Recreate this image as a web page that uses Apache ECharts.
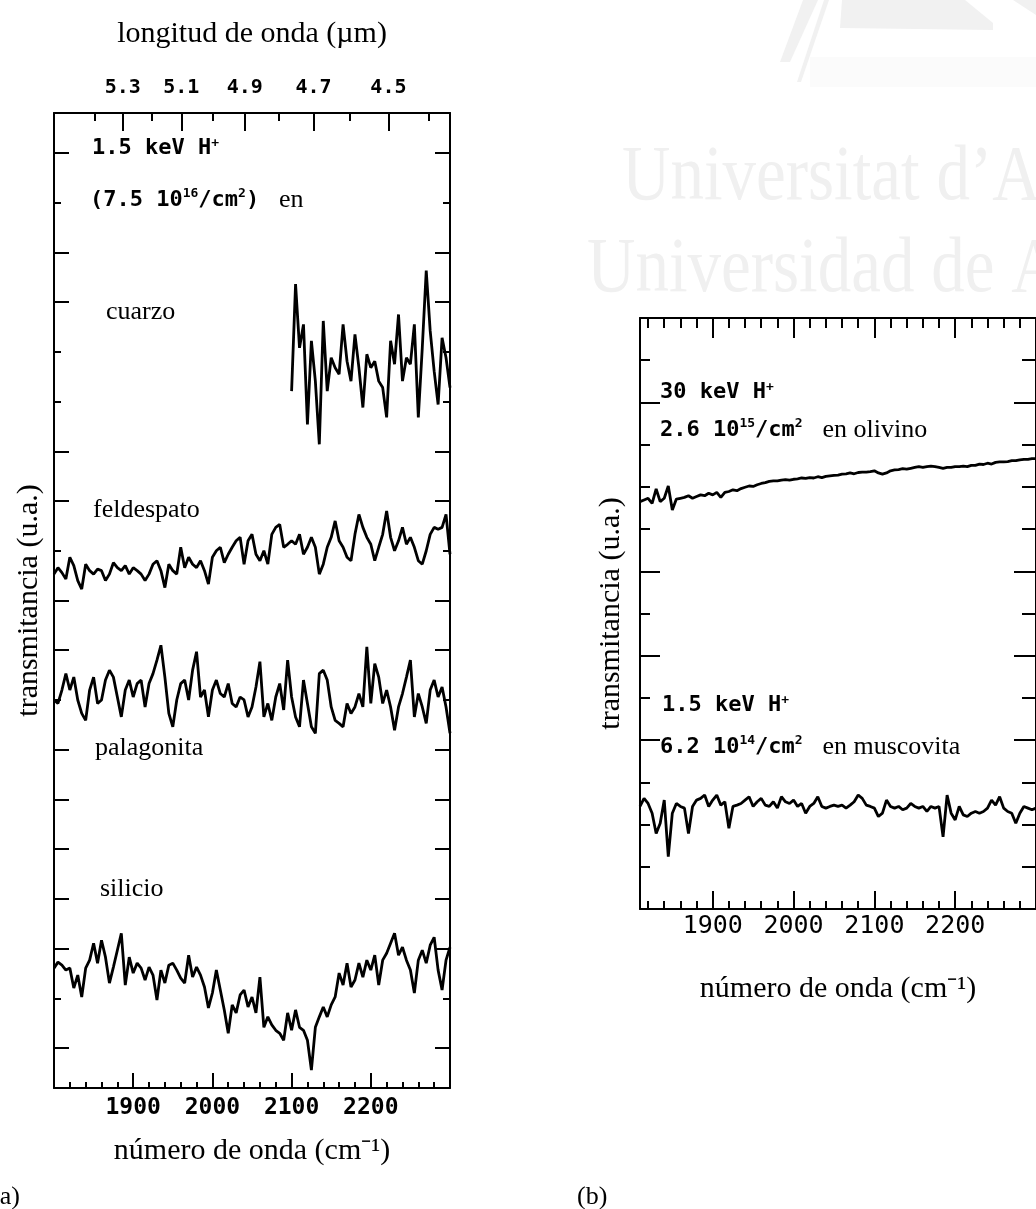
<!DOCTYPE html>
<html>
<head>
<meta charset="utf-8">
<script src="https://cdn.jsdelivr.net/npm/echarts@6/dist/echarts.min.js"></script>
<style>
    html, body { margin: 0; padding: 0; background: #fff; }
    #chart { width: 1036px; height: 1209px; }
</style>
</head>
<body>
<div id="chart"></div>
<script>
    // wavenumber grids (cm-1)
    var waveA = [
        1800, 1805, 1810, 1815, 1820, 1825, 1830, 1835, 1840, 1845,
        1850, 1855, 1860, 1865, 1870, 1875, 1880, 1885, 1890, 1895,
        1900, 1905, 1910, 1915, 1920, 1925, 1930, 1935, 1940, 1945,
        1950, 1955, 1960, 1965, 1970, 1975, 1980, 1985, 1990, 1995,
        2000, 2005, 2010, 2015, 2020, 2025, 2030, 2035, 2040, 2045,
        2050, 2055, 2060, 2065, 2070, 2075, 2080, 2085, 2090, 2095,
        2100, 2105, 2110, 2115, 2120, 2125, 2130, 2135, 2140, 2145,
        2150, 2155, 2160, 2165, 2170, 2175, 2180, 2185, 2190, 2195,
        2200, 2205, 2210, 2215, 2220, 2225, 2230, 2235, 2240, 2245,
        2250, 2255, 2260, 2265, 2270, 2275, 2280, 2285, 2290, 2295,
        2300
    ];
    var waveB = [
        1810, 1815, 1820, 1825, 1830, 1835, 1840, 1845,
        1850, 1855, 1860, 1865, 1870, 1875, 1880, 1885, 1890, 1895,
        1900, 1905, 1910, 1915, 1920, 1925, 1930, 1935, 1940, 1945,
        1950, 1955, 1960, 1965, 1970, 1975, 1980, 1985, 1990, 1995,
        2000, 2005, 2010, 2015, 2020, 2025, 2030, 2035, 2040, 2045,
        2050, 2055, 2060, 2065, 2070, 2075, 2080, 2085, 2090, 2095,
        2100, 2105, 2110, 2115, 2120, 2125, 2130, 2135, 2140, 2145,
        2150, 2155, 2160, 2165, 2170, 2175, 2180, 2185, 2190, 2195,
        2200, 2205, 2210, 2215, 2220, 2225, 2230, 2235, 2240, 2245,
        2250, 2255, 2260, 2265, 2270, 2275, 2280, 2285, 2290, 2295,
        2300
    ];

    // panel (a) spectra, offset units
    var cuarzo = [ // starts at 2100 cm-1
        14.01, 16.16, 14.88, 15.35, 13.34, 15.02, 14.21, 12.94, 15.42, 14.01,
        14.68, 14.48, 14.35, 15.35, 14.61, 14.21, 15.15, 14.48, 13.68, 14.75,
        14.48, 14.61, 14.21, 14.08, 13.48, 15.02, 14.55, 15.55, 14.21, 14.68,
        14.55, 15.35, 13.48, 14.88, 16.43, 15.22, 14.41, 13.74, 15.08, 14.68,
        14.08
    ];
    var feldespato = [
        10.33, 10.46, 10.36, 10.23, 10.67, 10.50, 10.20, 10.03, 10.53, 10.40,
        10.33, 10.43, 10.40, 10.20, 10.33, 10.56, 10.46, 10.40, 10.50, 10.33,
        10.46, 10.40, 10.33, 10.20, 10.33, 10.53, 10.60, 10.40, 10.06, 10.53,
        10.40, 10.33, 10.87, 10.46, 10.67, 10.53, 10.46, 10.60, 10.40, 10.13,
        10.67, 10.80, 10.87, 10.56, 10.73, 10.87, 11.00, 11.07, 10.53, 11.00,
        11.13, 10.73, 10.60, 10.80, 10.53, 11.13, 11.27, 11.33, 10.87, 10.93,
        11.00, 10.93, 11.13, 10.73, 10.87, 11.07, 10.87, 10.33, 10.53, 10.87,
        11.07, 11.40, 11.00, 10.87, 10.67, 10.60, 11.13, 11.53, 11.27, 11.07,
        10.93, 10.60, 10.87, 11.13, 11.60, 11.07, 10.80, 11.00, 11.27, 10.93,
        11.07, 10.87, 10.60, 10.53, 10.80, 11.13, 11.27, 11.23, 11.27, 11.53,
        10.73
    ];
    var palagonita = [
        7.80, 7.73, 8.00, 8.33, 8.00, 8.26, 7.80, 7.53, 7.39, 8.00,
        8.26, 7.73, 7.80, 8.20, 8.40, 8.26, 7.86, 7.46, 8.00, 8.20,
        7.86, 8.13, 8.20, 7.66, 8.13, 8.33, 8.60, 8.90, 8.26, 7.53,
        7.26, 7.80, 8.13, 8.20, 7.80, 8.40, 8.77, 7.86, 8.00, 7.46,
        8.00, 8.20, 7.93, 7.86, 8.13, 7.73, 7.66, 7.86, 7.80, 7.46,
        7.66, 8.06, 8.57, 7.46, 7.73, 7.39, 7.86, 8.13, 7.60, 8.60,
        7.86, 7.46, 7.26, 8.20, 7.73, 7.26, 7.13, 8.33, 8.40, 8.20,
        7.66, 7.39, 7.33, 7.26, 7.73, 7.53, 7.66, 7.93, 7.66, 8.87,
        7.73, 8.53, 8.26, 7.73, 8.00, 7.66, 7.19, 7.66, 7.93, 8.26,
        8.60, 7.46, 7.93, 7.66, 7.33, 8.00, 8.20, 7.86, 8.06, 7.66,
        7.13
    ];
    var silicio = [
        2.41, 2.53, 2.47, 2.37, 2.41, 2.01, 2.27, 1.83, 2.41, 2.57,
        2.91, 2.51, 2.97, 2.63, 2.11, 2.43, 2.77, 3.11, 2.07, 2.63,
        2.31, 2.51, 2.41, 2.17, 2.43, 2.27, 1.77, 2.37, 2.11, 2.47,
        2.51, 2.37, 2.21, 2.11, 2.67, 2.23, 2.43, 2.27, 2.03, 1.61,
        1.91, 2.37, 1.97, 1.57, 1.10, 1.67, 1.51, 1.87, 1.97, 1.63,
        1.83, 1.51, 2.23, 1.22, 1.43, 1.27, 1.16, 1.10, 0.96, 1.51,
        1.16, 1.57, 1.22, 1.16, 0.96, 0.36, 1.22, 1.43, 1.63, 1.43,
        1.67, 1.83, 2.31, 2.07, 2.51, 2.03, 2.17, 2.51, 2.23, 2.57,
        2.37, 2.67, 2.07, 2.57, 2.71, 2.91, 3.11, 2.67, 2.83, 2.57,
        2.37, 1.91, 2.57, 2.77, 2.51, 2.87, 3.03, 2.37, 1.97, 2.57,
        2.83
    ];

    // panel (b) spectra
    var olivino = [
        9.65, 9.69, 9.73, 9.61, 9.95, 9.65, 9.73, 10.02, 9.45, 9.71,
        9.73, 9.75, 9.79, 9.73, 9.77, 9.81, 9.79, 9.85, 9.81, 9.87,
        9.75, 9.87, 9.89, 9.93, 9.91, 9.96, 9.99, 10.02, 10.01, 10.05,
        10.08, 10.10, 10.13, 10.14, 10.14, 10.16, 10.17, 10.16, 10.18, 10.19,
        10.21, 10.20, 10.22, 10.21, 10.24, 10.22, 10.25, 10.26, 10.27, 10.28,
        10.30, 10.31, 10.33, 10.31, 10.34, 10.35, 10.35, 10.36, 10.38, 10.33,
        10.30, 10.33, 10.38, 10.40, 10.41, 10.43, 10.42, 10.44, 10.46, 10.48,
        10.46, 10.48, 10.49, 10.48, 10.46, 10.44, 10.46, 10.46, 10.48, 10.48,
        10.49, 10.48, 10.51, 10.51, 10.54, 10.53, 10.56, 10.54, 10.58, 10.59,
        10.59, 10.60, 10.62, 10.62, 10.64, 10.65, 10.65, 10.67, 10.67
    ];
    var muscovita = [
        2.43, 2.62, 2.50, 2.27, 1.79, 2.03, 2.58, 1.24, 2.27, 2.50,
        2.43, 2.39, 1.79, 2.43, 2.58, 2.62, 2.70, 2.43, 2.58, 2.70,
        2.46, 2.54, 1.91, 2.43, 2.46, 2.50, 2.58, 2.66, 2.43, 2.54,
        2.62, 2.46, 2.43, 2.54, 2.39, 2.66, 2.54, 2.50, 2.58, 2.43,
        2.50, 2.27, 2.43, 2.50, 2.66, 2.43, 2.39, 2.43, 2.46, 2.43,
        2.46, 2.39, 2.46, 2.54, 2.70, 2.62, 2.46, 2.43, 2.39, 2.19,
        2.27, 2.58, 2.43, 2.39, 2.43, 2.35, 2.39, 2.50, 2.43, 2.39,
        2.43, 2.31, 2.43, 2.39, 2.43, 1.71, 2.70, 2.27, 2.11, 2.43,
        2.23, 2.19, 2.27, 2.31, 2.27, 2.31, 2.39, 2.58, 2.46, 2.66,
        2.39, 2.31, 2.27, 2.03, 2.27, 2.43, 2.39, 2.35, 2.39
    ];

    // tick labels / positions
    var majorX = [1900, 2000, 2100, 2200];
    var minorX = [1820, 1840, 1860, 1880, 1920, 1940, 1960, 1980, 2020, 2040,
        2060, 2080, 2120, 2140, 2160, 2180, 2220, 2240, 2260, 2280];
    var wlMajor = [5.3, 5.1, 4.9, 4.7, 4.5];   // micron
    var wlMinor = [5.4, 5.2, 5.0, 4.8, 4.6, 4.4];
    var yLongA = [0.8, 2.8, 3.8, 4.8, 5.8, 6.8, 8.8, 9.8, 11.8, 12.8, 15.8, 16.8, 18.8];
    var yShortA = [1.8, 7.8, 10.8, 13.8, 14.8, 17.8];
    var yLongB = [4, 6, 8, 12];
    var yShortB = [1, 2, 3, 5, 7, 9, 10, 11, 13];

    var black = '#000';
    var serif = 'Liberation Serif';
    var mono = 'DejaVu Sans Mono';

    function toWave(l) { return 10000 / l; }
    function plain(v) { return String(v); }
    function pairs(xs, ys) { return ys.map(function (v, i) { return [xs[i], v]; }); }

    function axis(grid, pos, min, max, ticks, len, showLine, extra) {
        var a = {
            type: 'value', gridIndex: grid, position: pos, min: min, max: max,
            axisLine: {show: showLine, onZero: false, lineStyle: {color: black, width: 2}},
            axisTick: {show: true, inside: true, length: len, customValues: ticks,
                lineStyle: {color: black, width: 2}},
            axisLabel: {show: false},
            splitLine: {show: false}
        };
        for (var k in extra) a[k] = extra[k];
        return a;
    }

    var nameStyle = {fontFamily: serif, fontSize: 30, color: black};

    var xAxes = [
        axis(0, 'bottom', 1800, 2300, majorX, 15, true, {
            axisLabel: {customValues: majorX, margin: 9, color: black, fontFamily: mono,
                fontWeight: 'bold', fontSize: 23, formatter: plain},
            name: 'número de onda (cm⁻¹)', nameLocation: 'middle', nameGap: 48, nameTextStyle: nameStyle
        }),
        axis(0, 'bottom', 1800, 2300, minorX, 6, false),
        axis(0, 'top', 1800, 2300, wlMajor.map(toWave), 18, true, {
            axisLabel: {customValues: wlMajor.map(toWave), margin: 15, color: black, fontFamily: mono,
                fontWeight: 'bold', fontSize: 20,
                formatter: function (v) { return (10000 / v).toFixed(1); }},
            name: 'longitud de onda (µm)', nameLocation: 'middle', nameGap: 64, nameTextStyle: nameStyle
        }),
        axis(0, 'top', 1800, 2300, wlMinor.map(toWave), 8, false),
        axis(1, 'bottom', 1810, 2300, majorX, 18, true, {
            axisLabel: {customValues: majorX, margin: 5, color: black, fontFamily: mono, fontSize: 25,
                formatter: plain},
            name: 'número de onda (cm⁻¹)', nameLocation: 'middle', nameGap: 65, nameTextStyle: nameStyle
        }),
        axis(1, 'bottom', 1810, 2300, minorX, 8, false),
        axis(1, 'top', 1810, 2300, majorX, 20, true),
        axis(1, 'top', 1810, 2300, minorX, 10, false)
    ];

    var yAxes = [
        axis(0, 'left', 0, 19.6, yLongA, 15, true, {
            name: 'transmitancia (u.a.)', nameLocation: 'middle', nameGap: 10, nameTextStyle: nameStyle
        }),
        axis(0, 'left', 0, 19.6, yShortA, 7, false),
        axis(0, 'right', 0, 19.6, yLongA, 15, true),
        axis(0, 'right', 0, 19.6, yShortA, 7, false),
        axis(1, 'left', 0, 14, yLongB, 20, true, {
            name: 'transmitancia (u.a.)', nameLocation: 'middle', nameGap: 14, nameTextStyle: nameStyle
        }),
        axis(1, 'left', 0, 14, yShortB, 10, false),
        axis(1, 'right', 0, 14, yLongB, 22, true),
        axis(1, 'right', 0, 14, yShortB, 14, false)
    ];

    function spectrum(name, xi, yi, data) {
        return {
            name: name, type: 'line', xAxisIndex: xi, yAxisIndex: yi, data: data,
            symbol: 'none', showSymbol: false, silent: true,
            lineStyle: {color: black, width: 2.8}
        };
    }

    var rich = {
        m: {fontFamily: mono, fontWeight: 'bold', fontSize: 22, color: black},
        s: {fontFamily: mono, fontWeight: 'bold', fontSize: 13, color: black, verticalAlign: 'top'},
        r: {fontFamily: serif, fontSize: 26, color: black}
    };

    function label(x, y, text) {
        return {type: 'text', x: x, y: y, z: 10,
            style: {text: text, rich: rich, align: 'left', verticalAlign: 'middle',
                textAlign: 'left', textVerticalAlign: 'middle'}};
    }

    var shade = '#f1f1f1';
    var graphics = [
        // faint watermark of the scanned page
        {type: 'polygon', z: -10, shape: {points: [[780, 62], [803, 0], [818, 0], [790, 62]]}, style: {fill: shade}},
        {type: 'polygon', z: -10, shape: {points: [[797, 82], [824, 0], [829, 0], [801, 82]]}, style: {fill: shade}},
        {type: 'polygon', z: -10, shape: {points: [[842, 0], [965, 0], [993, 23], [993, 30], [840, 28]]}, style: {fill: shade}},
        {type: 'polygon', z: -10, shape: {points: [[1013, 0], [1036, 0], [1036, 15]]}, style: {fill: shade}},
        {type: 'rect', z: -11, shape: {x: 810, y: 57, width: 226, height: 30}, style: {fill: '#fbfbfb'}},
        {type: 'text', z: -10, x: 622, y: 178, scaleY: 1.18,
            style: {text: 'Universitat d’Alacant', fill: '#f0f0f0', font: '67px "Liberation Serif"',
                align: 'left', verticalAlign: 'middle'}},
        {type: 'text', z: -10, x: 587, y: 270, scaleY: 1.18,
            style: {text: 'Universidad de Alicante', fill: '#f0f0f0', font: '67px "Liberation Serif"',
                align: 'left', verticalAlign: 'middle'}},

        label(92, 148, '{m|1.5 keV H}{s|+}'),
        label(90, 200, '{m|(7.5 10}{s|16}{m|/cm}{s|2}{m|) }{r| en}'),
        label(106, 312, '{r|cuarzo}'),
        label(93, 510, '{r|feldespato}'),
        label(95, 748, '{r|palagonita}'),
        label(100, 889, '{r|silicio}'),
        label(660, 392, '{m|30 keV H}{s|+}'),
        label(660, 430, '{m|2.6 10}{s|15}{m|/cm}{s|2}{m| }{r| en olivino}'),
        label(662, 705, '{m|1.5 keV H}{s|+}'),
        label(660, 747, '{m|6.2 10}{s|14}{m|/cm}{s|2}{m| }{r| en muscovita}'),
        label(-9, 1197, '{r|(a)}'),
        label(577, 1197, '{r|(b)}')
    ];

    var chart = echarts.init(document.getElementById('chart'));
    chart.setOption({
        animation: false,
        backgroundColor: '#fff',
        grid: [
            {left: 54, top: 113, width: 396, height: 975},
            {left: 640, top: 318, width: 406, height: 591}
        ],
        xAxis: xAxes,
        yAxis: yAxes,
        graphic: graphics,
        series: [
            spectrum('cuarzo', 0, 0, pairs(waveA.slice(60), cuarzo)),
            spectrum('feldespato', 0, 0, pairs(waveA, feldespato)),
            spectrum('palagonita', 0, 0, pairs(waveA, palagonita)),
            spectrum('silicio', 0, 0, pairs(waveA, silicio)),
            spectrum('olivino', 4, 4, pairs(waveB, olivino)),
            spectrum('muscovita', 4, 4, pairs(waveB, muscovita))
        ]
    });
</script>
</body>
</html>
